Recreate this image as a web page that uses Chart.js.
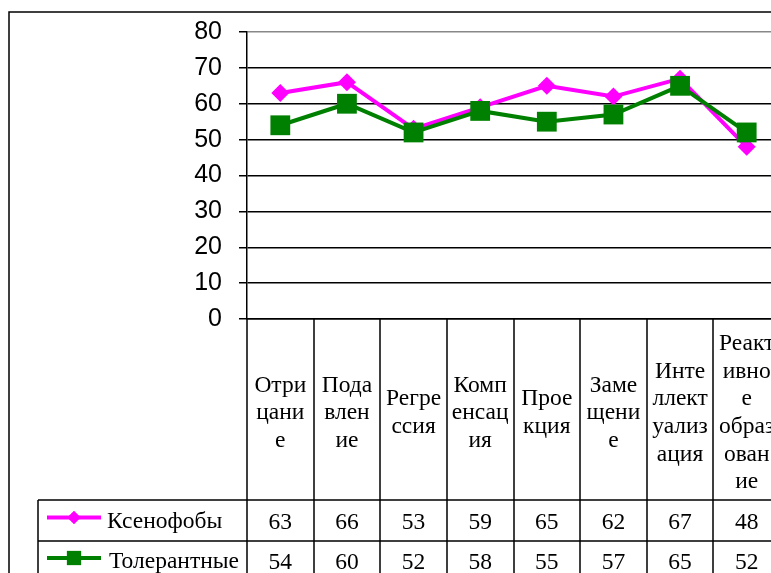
<!DOCTYPE html>
<html>
<head>
<meta charset="utf-8">
<script src="https://cdn.jsdelivr.net/npm/chart.js@4/dist/chart.umd.min.js"></script>
<style>
    html, body { margin: 0; padding: 0; background: #fff; overflow: hidden; }
    #wrap { position: absolute; left: 0; top: 0; width: 800px; height: 600px; }
</style>
</head>
<body>
<div id="wrap"><canvas id="chart" width="800" height="600"></canvas></div>
<script>
var categories = [
    ["Отри", "цани", "е"],
    ["Пода", "влен", "ие"],
    ["Регре", "ссия"],
    ["Комп", "енсац", "ия"],
    ["Прое", "кция"],
    ["Заме", "щени", "е"],
    ["Инте", "ллект", "уализ", "ация"],
    ["Реакт", "ивно", "е", "образ", "ован", "ие"]
];
var xenophobes = [63, 66, 53, 59, 65, 62, 67, 48];
var tolerant = [54, 60, 52, 58, 55, 57, 65, 52];
var seriesNames = ["Ксенофобы", "Толерантные"];
var yTicks = [0, 10, 20, 30, 40, 50, 60, 70, 80];

(function() {
    var serif = '23.5px "Liberation Serif", "Times New Roman", serif';
    var magenta = '#FF00FF', green = '#008000';

    // data table under the plot, drawn from the x scale
    var dataTable = {
        id: 'dataTable',
        beforeDraw: function(chart) {
            var ctx = chart.ctx;
            ctx.save();
            ctx.strokeStyle = '#000';
            ctx.lineWidth = 1.5;
            ctx.beginPath();
            ctx.moveTo(9, chart.height);
            ctx.lineTo(9, 12);
            ctx.lineTo(chart.width, 12);
            ctx.stroke();
            ctx.restore();
        },
        afterDatasetsDraw: function(chart) {
            var ctx = chart.ctx, x = chart.scales.x, area = chart.chartArea;
            var half = (x.getPixelForValue(1) - x.getPixelForValue(0)) / 2;
            var headTop = area.bottom;
            var rows = [[500, 541], [541, 581]];
            var legendLeft = 38;
            var values = [xenophobes, tolerant];

            ctx.save();
            ctx.strokeStyle = '#000';
            ctx.lineWidth = 1.5;
            ctx.beginPath();
            for (var i = 0; i <= categories.length; i++) {
                var bx = Math.round(x.getPixelForValue(i) - half);
                ctx.moveTo(bx, headTop);
                ctx.lineTo(bx, chart.height);
            }
            var hlines = [500, 541, 581];
            for (var r = 0; r < hlines.length; r++) {
                ctx.moveTo(legendLeft, hlines[r]);
                ctx.lineTo(area.right, hlines[r]);
            }
            ctx.moveTo(legendLeft, rows[0][0]);
            ctx.lineTo(legendLeft, chart.height);
            ctx.stroke();

            ctx.fillStyle = '#000';
            ctx.font = serif;
            ctx.textAlign = 'center';
            ctx.textBaseline = 'middle';
            var lh = 27.6, mid = 413;
            categories.forEach(function(lines, idx) {
                var cx = x.getPixelForValue(idx);
                var y0 = mid - (lines.length - 1) * lh / 2;
                lines.forEach(function(line, k) {
                    ctx.fillText(line, cx, y0 + k * lh);
                });
            });

            values.forEach(function(series, s) {
                var cy = (rows[s][0] + rows[s][1]) / 2 + 2;
                series.forEach(function(v, idx) {
                    ctx.fillText(String(v), x.getPixelForValue(idx), cy);
                });
            });

            // legend keys
            var keys = [
                { color: magenta, style: 'rectRot', radius: 6.5, textX: 107 },
                { color: green, style: 'rect', radius: 10, textX: 109 }
            ];
            keys.forEach(function(k, s) {
                var ly = (rows[s][0] + rows[s][1]) / 2 - 3;
                ctx.strokeStyle = k.color;
                ctx.lineWidth = 4;
                ctx.beginPath();
                ctx.moveTo(47, ly);
                ctx.lineTo(101, ly);
                ctx.stroke();
                ctx.fillStyle = k.color;
                Chart.helpers.drawPoint(ctx, {
                    pointStyle: k.style, radius: k.radius, rotation: 0, borderWidth: 0
                }, 74, ly);
                ctx.fill();
                ctx.fillStyle = '#000';
                ctx.textAlign = 'left';
                ctx.fillText(seriesNames[s], k.textX, ly + 4);
            });
            ctx.restore();
        }
    };

    var chart = new Chart(document.getElementById('chart'), {
        type: 'line',
        data: {
            labels: categories.map(function(c) { return c.join(''); }),
            datasets: [{
                label: seriesNames[0],
                data: xenophobes,
                borderColor: magenta,
                backgroundColor: magenta,
                borderWidth: 4,
                pointStyle: 'rectRot',
                pointRadius: 9,
                pointBorderWidth: 0,
                order: 1
            }, {
                label: seriesNames[1],
                data: tolerant,
                borderColor: green,
                backgroundColor: green,
                borderWidth: 4,
                pointStyle: 'rect',
                pointRadius: 14,
                pointBorderWidth: 0,
                order: 0
            }]
        },
        options: {
            responsive: false,
            animation: false,
            devicePixelRatio: 1,
            layout: { padding: { left: 0, top: 26, right: 20, bottom: 0 } },
            plugins: {
                legend: { display: false },
                tooltip: { enabled: false }
            },
            scales: {
                x: {
                    offset: true,
                    grid: { display: false },
                    ticks: { display: false },
                    border: { display: true, color: '#000', width: 1.5 },
                    afterFit: function(scale) { scale.height = 281; }
                },
                y: {
                    min: 0,
                    max: 80,
                    afterBuildTicks: function(scale) {
                        scale.ticks = yTicks.map(function(v) { return { value: v }; });
                    },
                    grid: {
                        color: function(c) { return c.tick && c.tick.value === 80 ? '#888' : '#000'; },
                        tickColor: '#000',
                        tickLength: 8,
                        lineWidth: 1.5
                    },
                    border: { display: true, color: '#000', width: 1.5 },
                    ticks: {
                        color: '#000',
                        padding: 17,
                        font: { family: '"Liberation Sans", Arial, sans-serif', size: 25 }
                    },
                    afterFit: function(scale) { scale.width = 247; }
                }
            }
        },
        plugins: [dataTable]
    });
})();
</script>
</body>
</html>
